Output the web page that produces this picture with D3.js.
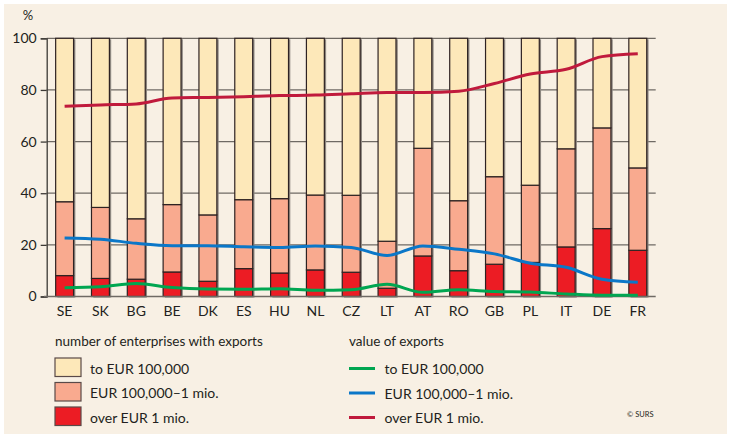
<!DOCTYPE html>
<html>
<head>
<meta charset="utf-8">
<script src="https://cdn.jsdelivr.net/npm/d3@7"></script>
<style>
  body { margin: 0; background: #ffffff; }
  text { font-family: Lato, "Open Sans", sans-serif; fill: #231f20; }
</style>
</head>
<body>
<div id="chart"></div>
<script>
// Chart data
var countries = ["SE", "SK", "BG", "BE", "DK", "ES", "HU", "NL", "CZ", "LT", "AT", "RO", "GB", "PL", "IT", "DE", "FR"];

// number of enterprises with exports (% shares)
var entOver1mio = [8.1, 7.0, 6.7, 9.5, 5.9, 10.8, 9.1, 10.3, 9.4, 3.2, 15.7, 10.0, 12.5, 13.2, 19.2, 26.3, 17.9];
var entMid = [28.6, 27.5, 23.4, 26.1, 25.7, 26.7, 28.8, 29.0, 29.8, 18.2, 41.7, 27.1, 33.9, 29.9, 38.0, 39.0, 31.9];
var entTo100k = [63.3, 65.5, 69.9, 64.4, 68.4, 62.5, 62.1, 60.7, 60.8, 78.6, 42.6, 62.9, 53.6, 56.9, 42.8, 34.7, 50.2];

// value of exports (% shares)
var valTo100k = [3.4, 3.8, 5.0, 3.5, 2.9, 2.8, 3.0, 2.4, 2.6, 4.7, 1.6, 2.6, 1.9, 1.7, 1.0, 0.5, 0.5];
var valMid = [22.7, 22.2, 20.6, 19.7, 19.7, 19.3, 19.0, 19.6, 19.0, 15.9, 19.6, 18.3, 16.5, 12.9, 11.3, 6.7, 5.5];
var valOver1mio = [73.7, 74.2, 74.6, 76.9, 77.1, 77.4, 77.8, 78.0, 78.5, 79.0, 79.0, 79.5, 82.5, 86.2, 88.0, 92.9, 94.0];

var yTicks = [0, 20, 40, 60, 80, 100];
var legendLabels = ["to EUR 100,000", "EUR 100,000\u20131 mio.", "over EUR 1 mio."];

// colours in legend order: to 100k, 100k-1mio, over 1mio
var barColors = ["#fde8b9", "#f9aa8f", "#ec1c24"];
var lineColors = ["#00a651", "#0b77c8", "#c01a3c"];

var svgWidth = 731;
var svgHeight = 438;

var svg = d3.select("#chart")
  .append("svg")
  .attr("width", svgWidth)
  .attr("height", svgHeight);

// beige panel
svg.append("rect")
  .attr("x", 4).attr("y", 4)
  .attr("width", 723).attr("height", 430)
  .attr("fill", "#f8f0e4");

// scales
var x = d3.scaleBand()
  .domain(countries)
  .range([46.7, 655.7])
  .paddingInner(0.5)
  .paddingOuter(0.25);

var y = d3.scaleLinear()
  .domain([0, 100])
  .range([296.5, 38.3]);

// gridlines
svg.append("g").selectAll("line")
  .data(yTicks.filter(d => d > 0))
  .enter()
  .append("line")
  .attr("x1", 46.7).attr("x2", 655.7)
  .attr("y1", d => y(d)).attr("y2", d => y(d))
  .attr("stroke", "#6f6a64")
  .attr("stroke-width", 1.3);

// left axis
var leftAxis = d3.axisLeft(y).tickValues(yTicks).tickSize(6).tickPadding(4);
var yAxisG = svg.append("g")
  .attr("transform", "translate(46.7,0)")
  .call(leftAxis);
yAxisG.select(".domain").attr("stroke", "#3d3a36").attr("stroke-width", 1.3);
yAxisG.selectAll(".tick line").attr("stroke", "#3d3a36").attr("stroke-width", 1.3);
yAxisG.selectAll(".tick text")
  .attr("font-family", "Lato, sans-serif")
  .attr("font-size", "14px")
  .attr("fill", "#231f20");

svg.append("text")
  .attr("x", 28).attr("y", 20)
  .attr("text-anchor", "middle")
  .attr("font-size", "13px")
  .text("%");

// stacked bars (bottom to top: over 1 mio, 100k-1 mio, to 100k)
var stackRows = countries.map((c, i) => ({
  country: c, over: entOver1mio[i], mid: entMid[i], small: entTo100k[i]
}));
var keyColor = { over: barColors[2], mid: barColors[1], small: barColors[0] };
var stack = d3.stack().keys(["over", "mid", "small"]);
var series = stack(stackRows);

// bar shadows
svg.append("g").selectAll("rect")
  .data(stackRows)
  .enter()
  .append("rect")
  .attr("x", d => x(d.country) + 1.8)
  .attr("y", y(100) + 1)
  .attr("width", x.bandwidth())
  .attr("height", y(0) - y(100))
  .attr("fill", "#8d8780");

var barGroups = svg.append("g").selectAll("g")
  .data(series)
  .enter()
  .append("g")
  .attr("fill", d => keyColor[d.key]);

barGroups.selectAll("rect")
  .data(d => d)
  .enter()
  .append("rect")
  .attr("x", d => x(d.data.country))
  .attr("y", d => y(d[1]))
  .attr("width", x.bandwidth())
  .attr("height", d => y(d[0]) - y(d[1]))
  .attr("stroke", "#2e2222")
  .attr("stroke-width", 1.2);

// x axis baseline
svg.append("line")
  .attr("x1", 44).attr("x2", 655.7)
  .attr("y1", y(0)).attr("y2", y(0))
  .attr("stroke", "#6f6a64")
  .attr("stroke-width", 1.5);

var bottomAxis = d3.axisBottom(x).tickSize(0).tickPadding(10);
var xAxisG = svg.append("g")
  .attr("transform", `translate(0,${y(0)})`)
  .call(bottomAxis);
xAxisG.select(".domain").remove();
xAxisG.selectAll(".tick text")
  .attr("font-family", "Lato, sans-serif")
  .attr("font-size", "14px")
  .attr("fill", "#231f20");

// lines
var lineSeries = [valTo100k, valMid, valOver1mio];
var line = d3.line()
  .x((d, i) => x(countries[i]) + x.bandwidth() / 2)
  .y(d => y(d))
  .curve(d3.curveMonotoneX);

svg.append("g").selectAll("path")
  .data(lineSeries)
  .enter()
  .append("path")
  .attr("d", d => line(d))
  .attr("fill", "none")
  .attr("stroke", (d, i) => lineColors[i])
  .attr("stroke-width", 3);

// legend: bars
svg.append("text")
  .attr("x", 55).attr("y", 345.5)
  .attr("font-size", "13.5px")
  .text("number of enterprises with exports");

var legBars = svg.append("g").selectAll("g")
  .data(legendLabels)
  .enter()
  .append("g")
  .attr("transform", (d, i) => `translate(55,${358 + i * 24.5})`);

legBars.append("rect")
  .attr("width", 26).attr("height", 18.5)
  .attr("fill", (d, i) => barColors[i])
  .attr("stroke", "#5a4a48")
  .attr("stroke-width", 1.2);

legBars.append("text")
  .attr("x", 35).attr("y", 15.5)
  .attr("font-size", "14px")
  .text(d => d);

// legend: lines
svg.append("text")
  .attr("x", 349).attr("y", 345.5)
  .attr("font-size", "13.5px")
  .text("value of exports");

var legLines = svg.append("g").selectAll("g")
  .data(legendLabels)
  .enter()
  .append("g")
  .attr("transform", (d, i) => `translate(349,${368.5 + i * 24.5})`);

legLines.append("line")
  .attr("x1", 0).attr("x2", 26)
  .attr("stroke", (d, i) => lineColors[i])
  .attr("stroke-width", 3);

legLines.append("text")
  .attr("x", 35.5).attr("y", 5.5)
  .attr("font-size", "14px")
  .text(d => d);

svg.append("text")
  .attr("x", 627).attr("y", 417)
  .attr("font-family", "Liberation Sans, Arial, sans-serif")
  .attr("font-size", "7.5px")
  .text("\u00a9 SURS");
</script>
</body>
</html>
